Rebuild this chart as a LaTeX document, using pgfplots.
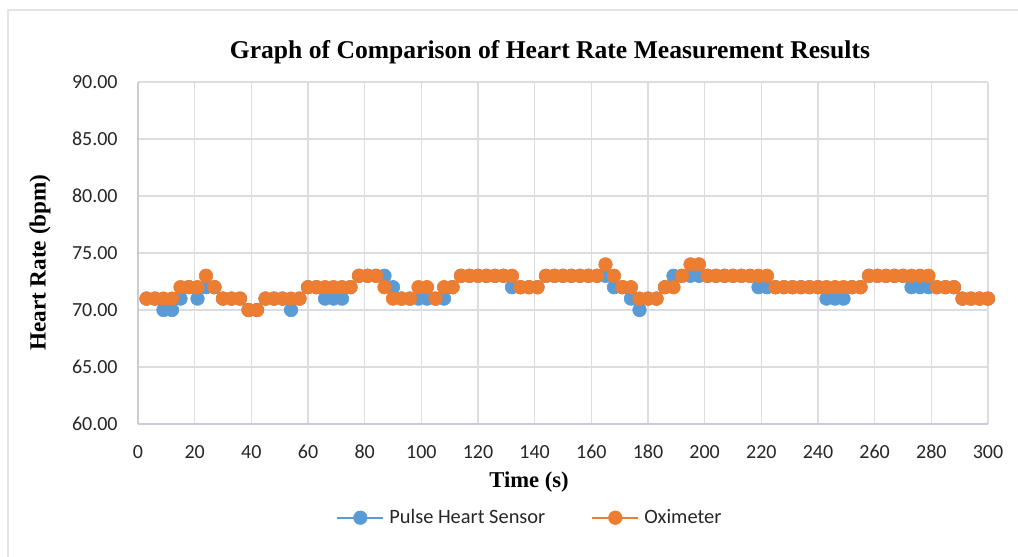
\documentclass[border=0pt]{standalone}
\usepackage{pgfplots}
\usepackage{pgfplotstable}
\pgfplotsset{compat=1.18}
\usepackage{fontspec}
\setmainfont{Carlito}
\newfontfamily\timesfont{Liberation Serif}
\definecolor{pblue}{HTML}{5B9BD5}
\definecolor{porange}{HTML}{ED7D31}
\definecolor{gridc}{HTML}{DCDDE3}
\definecolor{axc}{HTML}{C9CDD6}
\definecolor{txt}{HTML}{262626}
\definecolor{bordc}{HTML}{E3E3EA}

\pgfplotstableread{
t pulse oxi
3 71 71
6 71 71
9 70 71
12 70 71
15 71 72
18 72 72
21 71 72
24 72 73
27 72 72
30 71 71
33 71 71
36 71 71
39 70 70
42 70 70
45 71 71
48 71 71
51 71 71
54 70 71
57 71 71
60 72 72
63 72 72
66 71 72
69 71 72
72 71 72
75 72 72
78 73 73
81 73 73
84 73 73
87 73 72
90 72 71
93 71 71
96 71 71
99 71 72
102 71 72
105 71 71
108 71 72
111 72 72
114 73 73
117 73 73
120 73 73
123 73 73
126 73 73
129 73 73
132 72 73
135 72 72
138 72 72
141 72 72
144 73 73
147 73 73
150 73 73
153 73 73
156 73 73
159 73 73
162 73 73
165 73 74
168 72 73
171 72 72
174 71 72
177 70 71
180 71 71
183 71 71
186 72 72
189 73 72
192 73 73
195 73 74
198 73 74
201 73 73
204 73 73
207 73 73
210 73 73
213 73 73
216 73 73
219 72 73
222 72 73
225 72 72
228 72 72
231 72 72
234 72 72
237 72 72
240 72 72
243 71 72
246 71 72
249 71 72
252 72 72
255 72 72
258 73 73
261 73 73
264 73 73
267 73 73
270 73 73
273 72 73
276 72 73
279 72 73
282 72 72
285 72 72
288 72 72
291 71 71
294 71 71
297 71 71
300 71 71
}\datatable

\begin{document}
\begin{tikzpicture}
\path[use as bounding box] (-69pt,-66.5pt) rectangle (440pt,212pt);
\draw[bordc, line width=0.75pt] (-65pt,207pt) rectangle (446pt,-73pt);
\begin{axis}[
  at={(0pt,0pt)}, anchor=south west,
  scale only axis, width=425pt, height=171pt,
  xmin=0, xmax=300, ymin=60, ymax=90,
  xtick={0,20,...,300}, ytick={60,65,...,90},
  grid=major, major grid style={gridc, line width=0.6pt},
  axis lines*=left,
  axis line style={axc, line width=0.6pt, -},
  tick style={draw=none},
  /pgf/number format/assume math mode=true,
  ticklabel style={font=\fontsize{10}{12}\selectfont, text=txt},
  yticklabel style={/pgf/number format/.cd, fixed, fixed zerofill, precision=2, /tikz/.cd, anchor=east, inner sep=0pt, xshift=-10pt},
  xticklabel style={anchor=center, inner sep=0pt, yshift=-14pt},
  clip=false,
  every axis title shift=0pt,
  title={\timesfont\bfseries Graph of Comparison of Heart Rate Measurement Results},
  title style={at={(axis description cs:0.4847,1.088)}, anchor=center, inner sep=0pt, font=\fontsize{12.8}{15}\selectfont},
  xlabel={\timesfont\bfseries Time (s)},
  xlabel style={at={(axis description cs:0.46,-0.1696)}, anchor=center, inner sep=0pt, font=\fontsize{11.3}{13}\selectfont},
  ylabel={\timesfont\bfseries Heart Rate (bpm)},
  ylabel style={at={(axis description cs:-0.1153,0.472)}, anchor=center, inner sep=0pt, rotate=0, font=\fontsize{11.6}{13}\selectfont},
  legend columns=-1,
  legend style={at={(0.2329,-0.274)}, anchor=west, draw=none, fill=none, inner sep=0pt,
    font=\fontsize{10.2}{12}\selectfont, text=txt,
    nodes={inner sep=0pt, anchor=west},
    /tikz/every odd column/.append style={column sep=2.5pt},
    /tikz/every even column/.append style={column sep=23pt}},
  legend image code/.code={\draw[mark repeat=2,mark phase=2,#1] plot coordinates {(0pt,0pt) (11.5pt,0pt) (23pt,0pt)};},
]
\addplot[pblue, line width=1pt, mark=*, mark size=3.4pt, mark options={solid, fill=pblue, draw=pblue, line width=0.3pt}] table[x=t, y=pulse] {\datatable};
\addlegendentry{Pulse Heart Sensor}
\addplot[porange, line width=1pt, mark=*, mark size=3.4pt, mark options={solid, fill=porange, draw=porange, line width=0.3pt}] table[x=t, y=oxi] {\datatable};
\addlegendentry{Oximeter}
\end{axis}
\end{tikzpicture}
\end{document}
